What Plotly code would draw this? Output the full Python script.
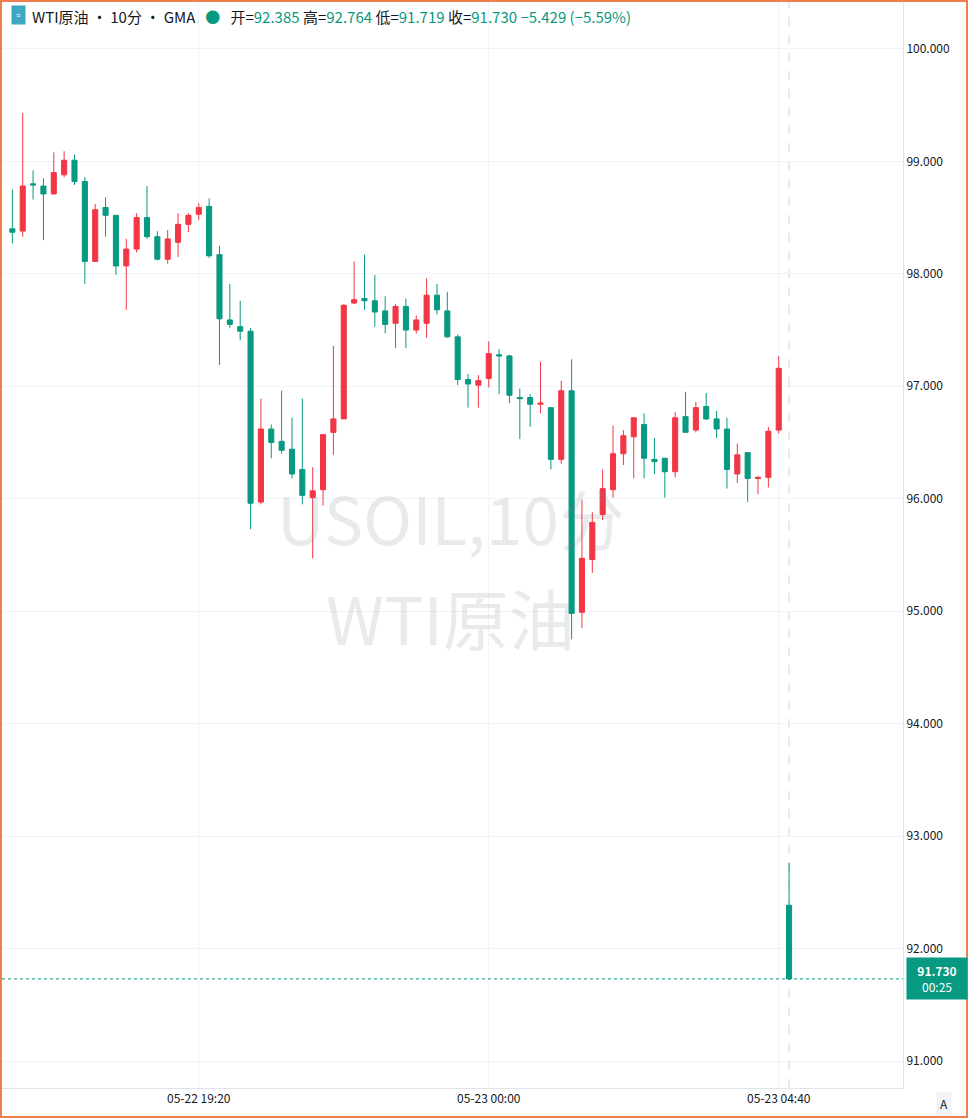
import plotly.graph_objects as go
import pandas as pd

opens = [98.40,98.38,98.80,98.78,98.71,98.88,99.01,98.82,98.11,98.59,98.52,98.07,98.22,98.50,98.33,98.13,98.28,98.44,98.53,98.60,
         98.17,97.59,97.53,97.49,95.97,96.62,96.51,96.44,96.26,96.01,96.08,96.59,96.71,97.74,97.78,97.76,97.67,97.56,97.71,97.50,
         97.56,97.81,97.67,97.44,97.06,97.01,97.07,97.28,97.27,96.90,96.90,96.84,96.81,96.35,96.96,94.99,95.46,95.86,96.08,96.40,
         96.55,96.66,96.35,96.36,96.24,96.73,96.61,96.82,96.71,96.62,96.22,96.41,96.18,96.19,96.61,92.385]
highs = [98.75,99.43,98.92,98.85,99.08,99.09,99.06,98.86,98.62,98.68,98.52,98.31,98.54,98.78,98.38,98.39,98.54,98.54,98.63,98.67,
         98.25,97.91,97.76,97.52,96.89,96.66,96.96,96.72,96.89,96.28,96.57,97.36,97.73,98.11,98.17,97.99,97.80,97.73,97.78,97.63,
         97.96,97.91,97.84,97.46,97.11,97.10,97.40,97.33,97.28,96.98,96.93,97.22,96.81,97.05,97.24,95.99,95.88,96.26,96.65,96.61,
         96.72,96.76,96.54,96.36,96.77,96.95,96.86,96.94,96.78,96.72,96.49,96.41,96.20,96.64,97.27,92.764]
lows = [98.27,98.33,98.66,98.30,98.71,98.86,98.79,97.91,98.11,98.33,97.99,97.68,98.19,98.31,98.12,98.09,98.15,98.37,98.48,98.14,
        97.19,97.52,97.41,95.73,95.95,96.36,96.40,96.18,95.95,95.47,95.94,96.39,96.71,97.73,97.68,97.53,97.47,97.34,97.34,97.47,
        97.43,97.64,97.43,97.01,96.81,96.81,96.99,96.93,96.85,96.53,96.64,96.76,96.26,96.31,94.75,94.85,95.34,95.81,96.01,96.30,
        96.18,96.18,96.22,96.01,96.19,96.59,96.59,96.70,96.54,96.09,96.14,95.97,96.04,96.10,96.58,91.719]
closes = [98.37,98.78,98.79,98.71,98.90,99.01,98.82,98.11,98.57,98.52,98.07,98.22,98.50,98.33,98.13,98.31,98.44,98.52,98.59,98.16,
          97.60,97.55,97.49,95.96,96.62,96.50,96.43,96.22,96.03,96.07,96.57,96.71,97.72,97.77,97.76,97.66,97.55,97.71,97.50,97.59,
          97.81,97.68,97.44,97.06,97.02,97.05,97.29,97.27,96.92,96.89,96.84,96.85,96.35,96.96,94.98,95.47,95.79,96.09,96.40,96.56,
          96.72,96.36,96.33,96.24,96.72,96.59,96.81,96.71,96.62,96.26,96.39,96.18,96.19,96.60,97.16,91.730]
times = pd.date_range("2025-05-22 16:20", periods=len(opens), freq="10min")

y_ticks = [91, 92, 93, 94, 95, 96, 97, 98, 99, 100]
y_tick_labels = [f"{v:.3f}" for v in y_ticks]
x_ticks = ["2025-05-22 19:20", "2025-05-23 00:00", "2025-05-23 04:40"]
x_tick_labels = ["05-22 19:20", "05-23 00:00", "05-23 04:40"]

GREEN = "#089981"
RED = "#F23645"
last = closes[-1]

fig = go.Figure(go.Candlestick(
    x=times, open=opens, high=highs, low=lows, close=closes,
    increasing=dict(line=dict(color=RED, width=1), fillcolor=RED),
    decreasing=dict(line=dict(color=GREEN, width=1), fillcolor=GREEN),
    whiskerwidth=0, hoverinfo="skip"))

fig.update_layout(
    width=968, height=1120, margin=dict(l=2, r=65, t=2, b=32),
    paper_bgcolor="white", plot_bgcolor="white", showlegend=False,
    font=dict(family="Noto Sans CJK SC, Roboto, sans-serif", color="#131722", size=12),
    xaxis=dict(range=["2025-05-22 16:10", "2025-05-23 06:40"], rangeslider=dict(visible=False),
               tickvals=x_ticks, ticktext=x_tick_labels, showgrid=True, gridcolor="#f0f3fa",
               showline=True, linecolor="#e0e3eb", ticks="", zeroline=False),
    yaxis=dict(side="right", range=[90.76, 100.417], tickvals=y_ticks, ticktext=y_tick_labels,
               showgrid=True, gridcolor="#f0f3fa", showline=True, linecolor="#e0e3eb", ticks="",
               zeroline=False, ticklabelposition="outside"),
)

fig.add_shape(type="line", xref="paper", yref="y", x0=0, x1=1, y0=last, y1=last,
              line=dict(color=GREEN, width=1, dash="dot"))
fig.add_shape(type="line", xref="x", yref="paper", x0=times[-1], x1=times[-1], y0=0, y1=1,
              line=dict(color="#d1d4dc", width=1, dash="dash"), layer="below")
fig.add_shape(type="rect", xref="paper", yref="paper",
              x0=-1/901, x1=965/901, y0=-29/1086, y1=1 + 1/1086,
              line=dict(color="#f07f4f", width=2), fillcolor="rgba(0,0,0,0)")

fig.add_annotation(xref="paper", yref="paper", x=0.498, y=0.527, text="USOIL,10分", showarrow=False,
                   font=dict(size=66, color="rgba(120,123,134,0.16)", family="Noto Sans CJK SC"))
fig.add_annotation(xref="paper", yref="paper", x=0.498, y=0.435, text="WTI原油", showarrow=False,
                   font=dict(size=66, color="rgba(120,123,134,0.16)", family="Noto Sans CJK SC"))

hdr = (f"WTI原油 • 10分 • GMA&nbsp;&nbsp;&nbsp;<span style='color:{GREEN}'>●</span>&nbsp;&nbsp;&nbsp;"
       f"开=<span style='color:{GREEN}'>{opens[-1]:.3f}</span> 高=<span style='color:{GREEN}'>{highs[-1]:.3f}</span> "
       f"低=<span style='color:{GREEN}'>{lows[-1]:.3f}</span> 收=<span style='color:{GREEN}'>{last:.3f}</span> "
       f"<span style='color:{GREEN}'>−5.429 (−5.59%)</span>")
fig.add_annotation(xref="paper", yref="paper", x=0.031, y=0.998, xanchor="left", yanchor="top",
                   text=hdr, showarrow=False, font=dict(size=15, color="#131722"))
fig.add_annotation(xref="paper", yref="paper", x=0.01, y=0.997, xanchor="left", yanchor="top",
                   text="▫", showarrow=False, bgcolor="#3fa6c4", font=dict(size=11, color="white"))

fig.add_annotation(xref="paper", yref="y", x=1.003, y=last, xanchor="left", yanchor="middle",
                   text=f"<b>{last:.3f}</b><br>00:25", showarrow=False, bgcolor=GREEN, borderpad=4,
                   font=dict(size=12, color="white"), align="center", width=52)
fig.add_annotation(xref="paper", yref="paper", x=1.045, y=-0.014, xanchor="center", yanchor="middle",
                   text="A", showarrow=False, bgcolor="#f0f3fa", borderpad=3,
                   font=dict(size=12, color="#131722"))

fig.write_html("out.html", config={"displayModeBar": False},
               post_script="document.body.style.margin='0';document.body.style.overflow='hidden';")
